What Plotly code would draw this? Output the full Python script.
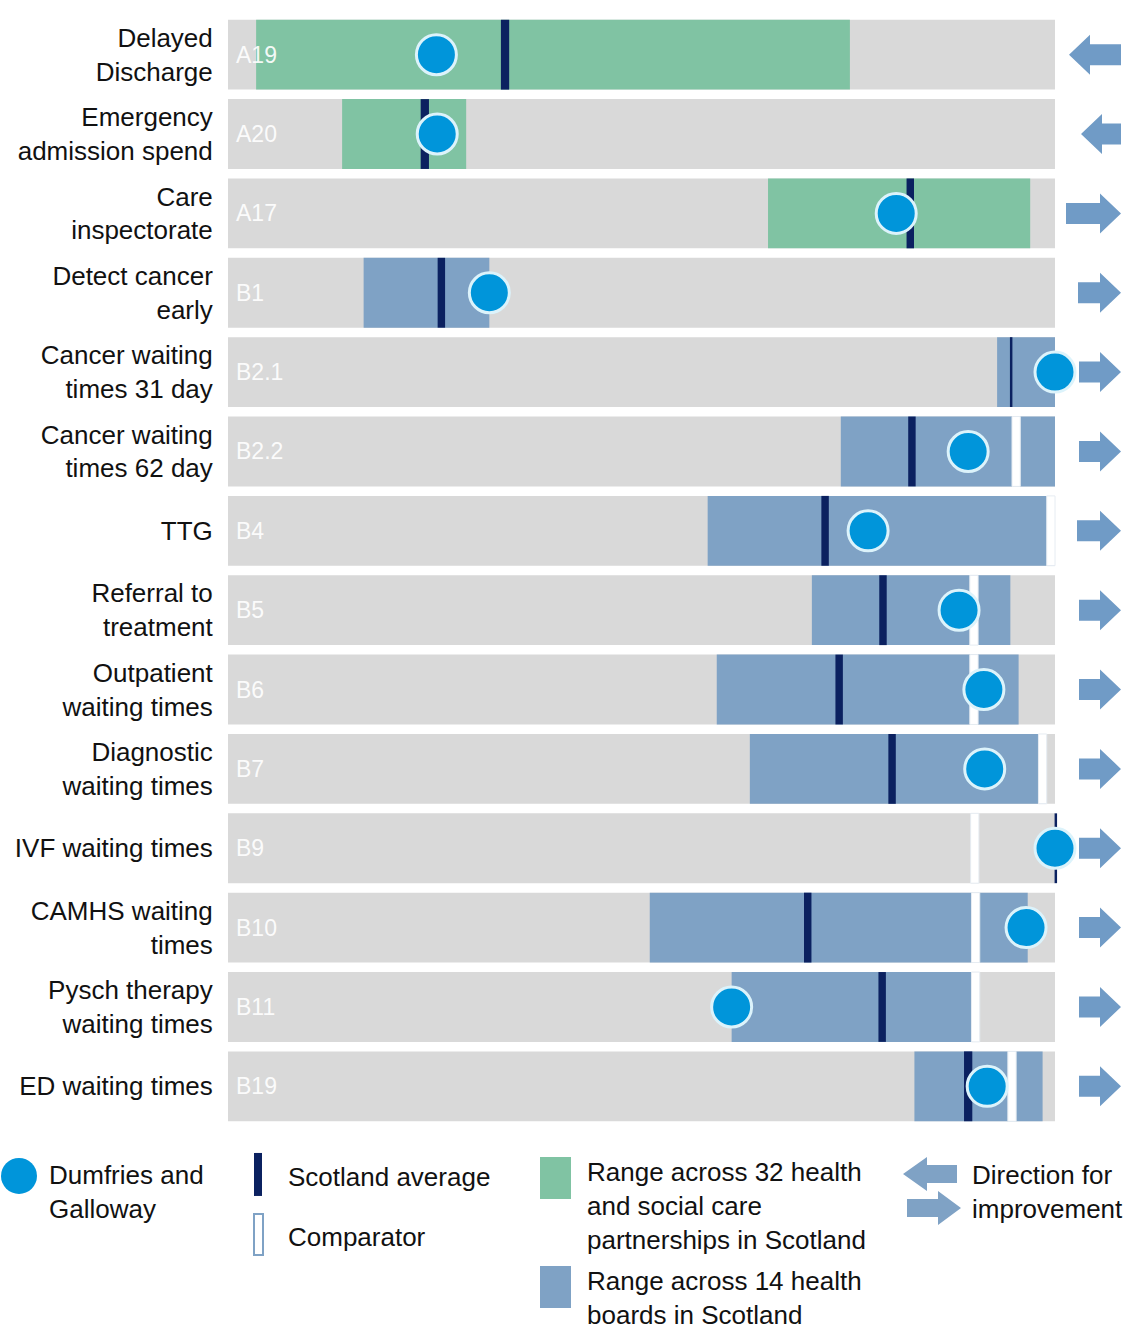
import plotly.graph_objects as go

# ---------------- data ----------------
labels = ["Delayed<br>Discharge", "Emergency<br>admission spend", "Care<br>inspectorate",
          "Detect cancer<br>early", "Cancer waiting<br>times 31 day", "Cancer waiting<br>times 62 day",
          "TTG", "Referral to<br>treatment", "Outpatient<br>waiting times", "Diagnostic<br>waiting times",
          "IVF waiting times", "CAMHS waiting<br>times", "Pysch therapy<br>waiting times", "ED waiting times"]
codes = ["A19", "A20", "A17", "B1", "B2.1", "B2.2", "B4", "B5", "B6", "B7", "B9", "B10", "B11", "B19"]
range_type = ["partnership", "partnership", "partnership"] + ["board"] * 11
range_low = [3.4, 13.8, 65.3, 16.4, 93.0, 74.1, 58.0, 70.6, 59.1, 63.1, None, 51.0, 60.9, 83.0]
range_high = [75.2, 28.8, 97.0, 31.6, 100.0, 100.0, 100.0, 94.6, 95.6, 98.9, None, 96.7, 90.0, 98.5]
scotland_avg = [33.5, 23.8, 82.5, 25.8, 94.7, 82.7, 72.2, 79.2, 73.9, 80.3, 100.1, 70.1, 79.1, 89.5]
dumfries = [25.2, 25.3, 80.8, 31.6, 100.0, 89.5, 77.4, 88.4, 91.4, 91.5, 100.0, 96.5, 60.9, 91.8]
comparator = [None, None, None, None, None, 95.3, 99.5, 90.2, 90.2, 98.5, 90.3, 90.4, 90.4, 94.8]
direction = ["left", "left", "right", "right", "right", "right", "right", "right", "right", "right",
             "right", "right", "right", "right"]
scale_max = 100.0

# ---------------- style ----------------
GRAY = "#d9d9d9"
GREEN = "#80c3a3"
BLUE = "#7fa2c5"
NAVY = "#0b2160"
DOT = "#0095da"
ARROW = "#709bc6"
FONT = "Liberation Sans, Arial, sans-serif"
FS = 26
avg_width = [1.0, 1.0, 0.9, 0.9, 0.3, 0.9, 0.9, 0.9, 0.9, 0.9, 0.3, 0.9, 0.9, 1.0]
arrow_len_px = [52, 40, 55, 43, 42, 42, 44, 42, 42, 42, 42, 42, 42, 42]
BAR_W = 0.88

W, H = 1135, 1329
L, R, T = 228, 0, 15
ROW_PX = 79.36
n = len(labels)
plot_h = ROW_PX * n
B = H - T - plot_h
PX_PER_UNIT = (1055 - L) / scale_max
xmax = (W - L - R) / PX_PER_UNIT

idx = list(range(n))
fig = go.Figure()

# background scale bars
fig.add_trace(go.Bar(y=idx, x=[scale_max] * n, base=[0] * n, orientation="h",
                     marker=dict(color=GRAY, line=dict(width=0)), width=BAR_W, hoverinfo="skip"))

# ranges
for kind, col in (("partnership", GREEN), ("board", BLUE)):
    ys, xs, bs = [], [], []
    for i in idx:
        if range_type[i] == kind and range_low[i] is not None:
            ys.append(i)
            bs.append(range_low[i])
            xs.append(range_high[i] - range_low[i])
    fig.add_trace(go.Bar(y=ys, x=xs, base=bs, orientation="h",
                         marker=dict(color=col, line=dict(width=0)), width=BAR_W, hoverinfo="skip"))

# comparator
cw = 1.0
cy = [i for i in idx if comparator[i] is not None]
fig.add_trace(go.Bar(y=cy, x=[cw] * len(cy), base=[comparator[i] - cw / 2 for i in cy], orientation="h",
                     marker=dict(color="white", line=dict(width=1, color="#e6ecf2")),
                     width=BAR_W, hoverinfo="skip"))

# Scotland average
fig.add_trace(go.Bar(y=idx, x=avg_width, base=[scotland_avg[i] - avg_width[i] / 2 for i in idx],
                     orientation="h", marker=dict(color=NAVY, line=dict(width=0)),
                     width=BAR_W, hoverinfo="skip"))

# Dumfries and Galloway
fig.add_trace(go.Scatter(x=dumfries, y=idx, mode="markers", cliponaxis=False,
                         marker=dict(size=40, color=DOT, line=dict(width=3, color="#dcf3fb")),
                         hoverinfo="skip"))

# code labels inside bars
annotations = []
for i in idx:
    annotations.append(dict(x=6 / PX_PER_UNIT, y=i, xref="x", yref="y", text=codes[i], showarrow=False,
                            xanchor="left", yanchor="middle",
                            font=dict(family=FONT, size=23, color="rgba(255,255,255,0.92)")))

# direction arrows (data coordinates)
shapes = []
tip_px = 1121
head_px = 21
for i in idx:
    alen = arrow_len_px[i] / PX_PER_UNIT
    hl = head_px / PX_PER_UNIT
    sh = 10.5 / ROW_PX
    hh = 20.0 / ROW_PX
    tip = (tip_px - L) / PX_PER_UNIT
    if direction[i] == "right":
        x0 = tip - alen
        xb = tip - hl
        p = (f"M {x0},{i - sh} L {xb},{i - sh} L {xb},{i - hh} L {tip},{i} "
             f"L {xb},{i + hh} L {xb},{i + sh} L {x0},{i + sh} Z")
    else:
        xt = tip - alen
        xb = xt + hl
        p = (f"M {tip},{i - sh} L {xb},{i - sh} L {xb},{i - hh} L {xt},{i} "
             f"L {xb},{i + hh} L {xb},{i + sh} L {tip},{i + sh} Z")
    shapes.append(dict(type="path", path=p, xref="x", yref="y", fillcolor=ARROW,
                       line=dict(width=0), layer="above"))

# ---------------- legend (paper coords) ----------------
def px(x):
    return (x - L) / (W - L - R)


def py(y):
    return (T + plot_h - y) / plot_h


def rect(x0, y0, x1, y1, fill, line=None):
    shapes.append(dict(type="rect", xref="paper", yref="paper", x0=px(x0), x1=px(x1),
                       y0=py(y1), y1=py(y0), fillcolor=fill,
                       line=line if line else dict(width=0), layer="above"))


def text(x, y, t):
    annotations.append(dict(x=px(x), y=py(y), xref="paper", yref="paper", text=t, showarrow=False,
                            xanchor="left", yanchor="middle", align="left", borderpad=0,
                            font=dict(family=FONT, size=FS, color="#111111")))


# dot
shapes.append(dict(type="circle", xref="paper", yref="paper", x0=px(1), x1=px(37),
                   y0=py(1194), y1=py(1158), fillcolor=DOT, line=dict(width=0), layer="above"))
text(48, 1192.5, "Dumfries and<br>Galloway")
rect(254, 1153, 262, 1196, NAVY)
text(287, 1177, "Scotland average")
rect(254, 1214, 263, 1255, "white", dict(width=2, color=BLUE))
text(287, 1237, "Comparator")
rect(540, 1157, 571, 1199, GREEN)
text(586, 1206, "Range across 32 health<br>and social care<br>partnerships in Scotland")
rect(540, 1266, 571, 1308, BLUE)
text(586, 1298, "Range across 14 health<br>boards in Scotland")


def legend_arrow(x_tail, x_base, x_tip, yc):
    pts = [(x_tail, yc - 9), (x_base, yc - 9), (x_base, yc - 17), (x_tip, yc),
           (x_base, yc + 17), (x_base, yc + 9), (x_tail, yc + 9)]
    p = "M " + " L ".join(f"{px(a)},{py(b)}" for a, b in pts) + " Z"
    shapes.append(dict(type="path", path=p, xref="paper", yref="paper", fillcolor=BLUE,
                       line=dict(width=0), layer="above"))


legend_arrow(957, 927, 903, 1174)
legend_arrow(907, 938, 961, 1208)
text(971, 1192.5, "Direction for<br>improvement")

fig.update_layout(
    width=W, height=H,
    margin=dict(l=L, r=R, t=T, b=B, pad=0),
    paper_bgcolor="white", plot_bgcolor="white",
    barmode="overlay", showlegend=False,
    font=dict(family=FONT, size=FS, color="#111111"),
    xaxis=dict(range=[0, xmax], visible=False, fixedrange=True),
    yaxis=dict(range=[n - 0.5, -0.5], tickmode="array", tickvals=idx, ticktext=labels,
               showgrid=False, zeroline=False, showline=False, ticks="outside", ticklen=9,
               tickcolor="rgba(0,0,0,0)", tickfont=dict(family=FONT, size=FS, color="#111111"),
               fixedrange=True),
    shapes=shapes, annotations=annotations,
)

fig.write_html("out.html")
